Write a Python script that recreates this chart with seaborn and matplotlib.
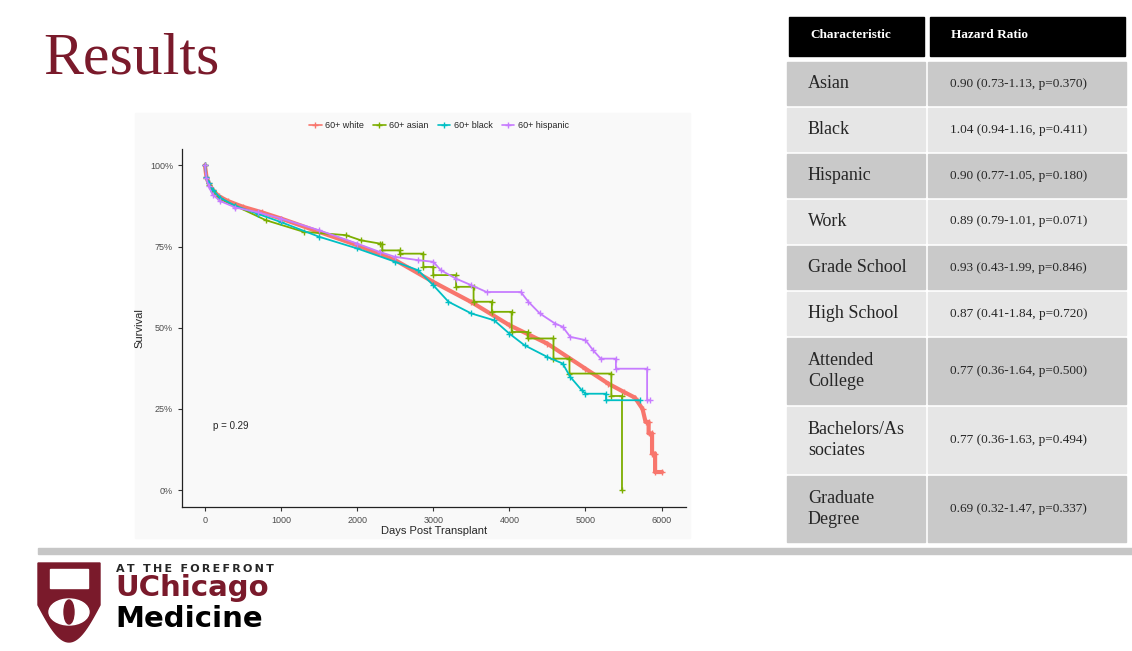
import numpy as np
import pandas as pd
import matplotlib
matplotlib.use('Agg')
import matplotlib.pyplot as plt
import seaborn as sns
from matplotlib.lines import Line2D
from matplotlib.patches import Rectangle, Polygon, Ellipse

W, H = 1132, 651

# KM curves (days, survival)
white_days = [0, 20, 50, 100, 180, 300, 500, 750, 1000, 1500, 2000, 2500, 3000, 3500, 4000, 4500,
              5000, 5300, 5500, 5650, 5750, 5790, 5830, 5830, 5875, 5875, 5915, 5915, 6005]
white_surv = [1.0, 0.965, 0.945, 0.925, 0.905, 0.89, 0.872, 0.855, 0.836, 0.795, 0.754, 0.708, 0.641, 0.579, 0.508, 0.451,
              0.374, 0.328, 0.303, 0.285, 0.25, 0.21, 0.21, 0.175, 0.175, 0.113, 0.113, 0.056, 0.056]

asian_days = [0, 20, 50, 100, 200, 400, 800, 1300, 1850, 2050, 2300, 2330, 2330, 2560, 2560, 2870, 2870, 3000,
              3000, 3300, 3300, 3530, 3530, 3770, 3770, 4030, 4030, 4240, 4240, 4580, 4580, 4790, 4790, 5340,
              5340, 5480, 5480]
asian_surv = [1.0, 0.96, 0.94, 0.92, 0.895, 0.875, 0.831, 0.795, 0.785, 0.769, 0.759, 0.759, 0.738, 0.738, 0.728, 0.728,
              0.687, 0.687, 0.662, 0.662, 0.626, 0.626, 0.58, 0.58, 0.549, 0.549, 0.487, 0.487, 0.467, 0.467, 0.405,
              0.405, 0.359, 0.359, 0.29, 0.29, 0.0]

black_days = [0, 20, 50, 100, 200, 400, 700, 1000, 1500, 2000, 2500, 2800, 3000, 3200, 3500, 3800, 4000, 4200,
              4500, 4700, 4800, 4950, 5000, 5270, 5270, 5720]
black_surv = [1.0, 0.965, 0.945, 0.925, 0.9, 0.875, 0.85, 0.825, 0.78, 0.744, 0.703, 0.677, 0.631, 0.58, 0.544, 0.523,
              0.482, 0.446, 0.41, 0.39, 0.349, 0.308, 0.297, 0.297, 0.277, 0.277]

hisp_days = [0, 20, 50, 100, 200, 400, 700, 1000, 1500, 2000, 2300, 2500, 2800, 3000, 3100, 3300, 3500, 3700, 4150,
             4250, 4400, 4600, 4700, 4800, 5000, 5100, 5200, 5400, 5400, 5810, 5810, 5850]
hisp_surv = [1.0, 0.96, 0.935, 0.91, 0.89, 0.87, 0.855, 0.836, 0.8, 0.759, 0.733, 0.718, 0.708, 0.703, 0.677, 0.651,
             0.631, 0.61, 0.61, 0.58, 0.544, 0.513, 0.503, 0.472, 0.462, 0.431, 0.405, 0.405, 0.374, 0.374, 0.277, 0.277]

groups = ['60+ white', '60+ asian', '60+ black', '60+ hispanic']
colors = ['#F8766D', '#7CAE00', '#00BFC4', '#C77CFF']

x_ticks = [0, 1000, 2000, 3000, 4000, 5000, 6000]
y_ticks = [0, 0.25, 0.5, 0.75, 1.0]
y_tick_labels = ['0%', '25%', '50%', '75%', '100%']

characteristics = ['Asian', 'Black', 'Hispanic', 'Work', 'Grade School', 'High School',
                   'Attended\nCollege', 'Bachelors/As\nsociates', 'Graduate\nDegree']
hazard_ratios = ['0.90 (0.73-1.13, p=0.370)', '1.04 (0.94-1.16, p=0.411)', '0.90 (0.77-1.05, p=0.180)',
                 '0.89 (0.79-1.01, p=0.071)', '0.93 (0.43-1.99, p=0.846)', '0.87 (0.41-1.84, p=0.720)',
                 '0.77 (0.36-1.64, p=0.500)', '0.77 (0.36-1.63, p=0.494)', '0.69 (0.32-1.47, p=0.337)']

frames = []
for g, d, s in zip(groups, [white_days, asian_days, black_days, hisp_days],
                   [white_surv, asian_surv, black_surv, hisp_surv]):
    frames.append(pd.DataFrame({'day': d, 'surv': s, 'group': g}))
df = pd.concat(frames, ignore_index=True)


def fx(x):
    return x / W


def fy(y):
    return 1 - y / H


maroon = '#7a1a2b'
serif = 'Liberation Serif'
sans = 'Liberation Sans'

sns.set_style('ticks')
fig = plt.figure(figsize=(W / 100, H / 100), dpi=100)
fig.patch.set_facecolor('white')

# slide title
fig.text(fx(43), fy(74), 'Results', fontsize=43, family=serif, color=maroon, va='baseline', ha='left')

# light backdrop of the pasted chart image
fig.add_artist(Rectangle((fx(135), fy(538)), fx(690) - fx(135), (538 - 113) / H,
                         transform=fig.transFigure, color='#f9f9f9', zorder=0))

ax = fig.add_axes([fx(182), fy(506.5), fx(686) - fx(182), (506.5 - 149) / H])
ax.set_facecolor('none')
sns.lineplot(data=df, x='day', y='surv', hue='group', hue_order=groups, palette=colors,
             estimator=None, sort=False, legend=False, ax=ax,
             marker='+', markersize=4.5, markeredgewidth=1.0, linewidth=1.3)
for ln in ax.lines:
    ln.set_markeredgecolor(ln.get_color())
ax.lines[0].set_linewidth(3.0)

ax.set_xlim(-301, 6321)
ax.set_ylim(-0.05, 1.05)
ax.set_xticks(x_ticks)
ax.set_yticks(y_ticks)
ax.set_yticklabels(y_tick_labels)
for lab in ax.get_xticklabels() + ax.get_yticklabels():
    lab.set_family(sans)
ax.tick_params(labelsize=6.5, labelcolor='#4d4d4d', color='#333333', length=3, width=0.8)
sns.despine(ax=ax)
for sp in ['left', 'bottom']:
    ax.spines[sp].set_color('#222222')
    ax.spines[sp].set_linewidth(0.9)
ax.set_xlabel('Days Post Transplant', fontsize=8, family=sans, labelpad=1)
ax.set_ylabel('Survival', fontsize=8, family=sans, labelpad=4)
ax.text(100, 0.197, 'p = 0.29', fontsize=7, family=sans, va='center', ha='left')

handles = [Line2D([0], [0], color=c, marker='+', markersize=4, lw=1.2) for c in colors]
fig.legend(handles, groups, loc='center', bbox_to_anchor=(fx(439), fy(126)), ncol=4, frameon=False,
           prop={'family': sans, 'size': 6.5}, handlelength=1.4, columnspacing=1.0, handletextpad=0.4)

# hazard ratio table
fig.add_artist(Rectangle((fx(789), fy(56)), fx(924) - fx(789), 39 / H, transform=fig.transFigure, color='black'))
fig.add_artist(Rectangle((fx(930), fy(56)), fx(1125) - fx(930), 39 / H, transform=fig.transFigure, color='black'))
fig.text(fx(810), fy(35), 'Characteristic', fontsize=9.5, family=serif, weight='bold', color='white', va='center')
fig.text(fx(951), fy(35), 'Hazard Ratio', fontsize=9.5, family=serif, weight='bold', color='white', va='center')

top = 62
for i, (c, hr) in enumerate(zip(characteristics, hazard_ratios)):
    h = 66 if '\n' in c else 43
    shade = '#c9c9c9' if i % 2 == 0 else '#e6e6e6'
    fig.add_artist(Rectangle((fx(787), fy(top + h)), fx(925) - fx(787), h / H,
                             transform=fig.transFigure, color=shade))
    fig.add_artist(Rectangle((fx(928), fy(top + h)), fx(1126) - fx(928), h / H,
                             transform=fig.transFigure, color=shade))
    fig.text(fx(808), fy(top + h / 2), c, fontsize=13, family=serif, va='center', ha='left', linespacing=1.3)
    fig.text(fx(950), fy(top + h / 2), hr, fontsize=9.5, family=serif, va='center', ha='left')
    top += h + 3

# footer bar and logo
fig.add_artist(Rectangle((fx(38), fy(554)), 1 - fx(38), 6 / H, transform=fig.transFigure, color='#c6c6c6'))
t = np.linspace(0, 1, 20)
shield = [(38, 563), (100, 563), (100, 605)]
shield += [(100 - 31 * k, 605 + 37 * np.sin(k * np.pi / 2)) for k in t[1:]]
shield += [(69 - 31 * k, 642 - 37 * (1 - np.cos(k * np.pi / 2))) for k in t[1:]]
fig.add_artist(Polygon([(fx(a), fy(b)) for a, b in shield], closed=True, transform=fig.transFigure,
                       color=maroon))
fig.add_artist(Rectangle((fx(50), fy(588)), fx(88) - fx(50), 19 / H, transform=fig.transFigure,
                         facecolor='white', edgecolor='white'))
fig.add_artist(Ellipse((fx(69), fy(612)), 40 / W, 26 / H, transform=fig.transFigure, color='white'))
fig.add_artist(Ellipse((fx(69), fy(612)), 10 / W, 24 / H, transform=fig.transFigure, color=maroon))

fig.text(fx(116), fy(569), '\u2009'.join('AT THE FOREFRONT'), fontsize=8, family='DejaVu Sans',
         weight='bold', va='center', ha='left')
fig.text(fx(115), fy(596), 'UChicago', fontsize=21, family='DejaVu Sans', weight='bold', color=maroon,
         va='baseline', ha='left')
fig.text(fx(115), fy(627), 'Medicine', fontsize=21, family='DejaVu Sans', weight='bold', color='black',
         va='baseline', ha='left')

fig.savefig('out.png', dpi=100)
